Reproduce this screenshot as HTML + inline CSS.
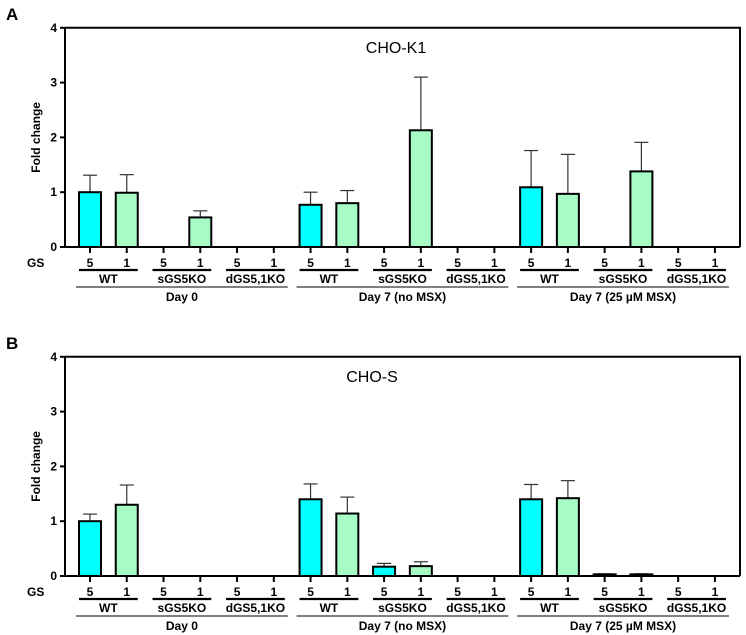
<!DOCTYPE html>
<html><head><meta charset="utf-8"><style>
body{margin:0;background:#fff}
svg{display:block;font-family:"Liberation Sans",Arial,sans-serif}
</style></head><body>
<svg id="chart" width="746" height="635" viewBox="0 0 746 635"></svg>
<script>
const categories = ["5","1","5","1","5","1","5","1","5","1","5","1","5","1","5","1","5","1"];
const genotypes = ["WT","sGS5KO","dGS5,1KO","WT","sGS5KO","dGS5,1KO","WT","sGS5KO","dGS5,1KO"];
const days = ["Day 0","Day 7 (no MSX)","Day 7 (25 \u00b5M MSX)"];
const yTicks = [0,1,2,3,4];
const valuesA = [1.0,0.99,0,0.54,0,0,0.77,0.80,0,2.13,0,0,1.09,0.97,0,1.38,0,0];
const errorsA = [0.31,0.33,0,0.12,0,0,0.23,0.23,0,0.97,0,0,0.67,0.72,0,0.53,0,0];
const valuesB = [1.0,1.3,0,0,0,0,1.4,1.14,0.17,0.18,0,0,1.4,1.42,0.03,0.03,0,0];
const errorsB = [0.13,0.36,0,0,0,0,0.28,0.3,0.06,0.08,0,0,0.27,0.32,0.01,0.01,0,0];

const svg = document.getElementById('chart');
const NS = 'http://www.w3.org/2000/svg';
function mk(tag, attrs, parent){const e=document.createElementNS(NS,tag);for(const k in attrs)e.setAttribute(k,attrs[k]);(parent||svg).appendChild(e);return e;}
const xPos = i => 90 + i*36.76;

function panel(letter, title, titleX, y0, vals, errs, key){
  const g = mk('g',{});
  
  
  const yScale = v => y0 - v*54.8;
  const top = yScale(4);
  const L = mk('text',{x:6,y:top-8,'font-size':17,'font-weight':'bold'},g); L.textContent=letter;
  
  
  const fr = mk('path',{d:`M65,${top} H740 V${y0} M65,${top} V${y0} H740`,fill:'none',stroke:'#000','stroke-width':2},g);
  
  
  yTicks.forEach(t=>{
    const y=yScale(t);
    mk('line',{x1:60,x2:65,y1:y,y2:y,stroke:'#000','stroke-width':2},g);
    const tx=mk('text',{x:57,y:y+4,'font-size':12,'font-weight':'bold','text-anchor':'end'},g);tx.textContent=t;
    
    
  });
  const yl=mk('text',{x:0,y:0,'font-size':12,'font-weight':'bold','text-anchor':'middle',transform:`translate(40,${(top+y0)/2}) rotate(-90)`},g);
  yl.textContent='Fold change';
  
  
  const tt=mk('text',{x:titleX,y:top+25,'font-size':16,'text-anchor':'middle'},g);tt.textContent=title;
  
  
  vals.forEach((v,i)=>{
    const cx=xPos(i);
    mk('line',{x1:cx,x2:cx,y1:y0,y2:y0+6,stroke:'#000','stroke-width':2},g);
    if(v>0){
      const e=errs[i];
      if(e>0){
        mk('line',{x1:cx,x2:cx,y1:yScale(v),y2:yScale(v+e),stroke:'#333','stroke-width':1.2},g);
        mk('line',{x1:cx-7,x2:cx+7,y1:yScale(v+e),y2:yScale(v+e),stroke:'#333','stroke-width':1.2},g);
      }
      const b=mk('rect',{x:cx-11,y:yScale(v),width:22,height:v*54.8,fill:i%2===0?'#00ffff':'#a6fcc4',stroke:'#000','stroke-width':2},g);
      
      
    }
    const c=mk('text',{x:cx,y:y0+20,'font-size':12,'font-weight':'bold','text-anchor':'middle'},g);c.textContent=categories[i];
    
    
  });
  const gs=mk('text',{x:27,y:y0+20,'font-size':12,'font-weight':'bold'},g);gs.textContent='GS';
  
  
  genotypes.forEach((n,j)=>{
    const a=xPos(2*j)-11,b=xPos(2*j+1)+11;
    mk('line',{x1:a,x2:b,y1:y0+23,y2:y0+23,stroke:'#000','stroke-width':2.2},g);
    const t=mk('text',{x:(a+b)/2,y:y0+36,'font-size':12,'font-weight':'bold','text-anchor':'middle'},g);t.textContent=n;
    
    
  });
  days.forEach((d,k)=>{
    const a=xPos(6*k)-14,b=xPos(6*k+5)+14;
    mk('line',{x1:a,x2:b,y1:y0+40,y2:y0+40,stroke:'#000','stroke-width':1});
    const t=mk('text',{x:(a+b)/2,y:y0+54,'font-size':12,'font-weight':'bold','text-anchor':'middle'},g);t.textContent=d;
    
    
  });
}
panel('A','CHO-K1',396,247,valuesA,errorsA,'a');
panel('B','CHO-S',372,576,valuesB,errorsB,'b');
</script>
</body></html>
